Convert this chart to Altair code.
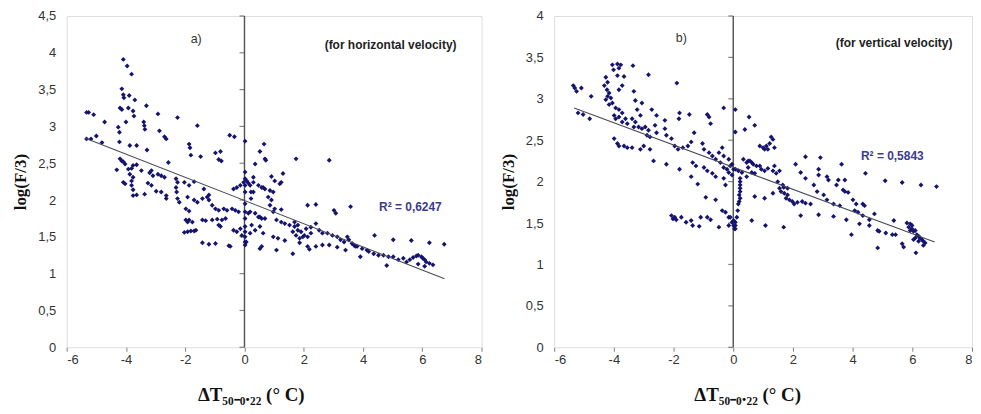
import altair as alt
import pandas as pd

# ---------------- data ----------------
a_pts = [(-4.09,3.91),(-3.96,3.82),(-3.81,3.71),(-4.14,3.51),(-4.09,3.43),(-4.07,3.39),(-3.89,3.42),(-3.70,3.36),
(-4.2,3.25),(-4.14,3.23),(-3.92,3.25),(-3.76,3.21),(-3.73,3.14),(-3.31,3.28),(-2.92,3.17),(-2.26,3.12),(-1.59,3.01),
(-5.33,3.19),(-5.26,3.19),(-5.09,3.16),(-4.72,3.06),(-4.26,2.99),(-4.22,2.92),(-4.0,3.06),(-3.4,3.06),(-3.38,3.01),
(-3.36,2.96),(-2.87,2.94),(-2.7,2.86),(-2.64,2.83),(-5.33,2.83),(-5.18,2.83),(-5.0,2.87),(-4.81,2.78),(-4.22,2.79),
(-3.87,2.74),(-3.64,2.74),(-3.29,2.68),(-1.87,2.76),(-1.84,2.71),(-1.81,2.61),(-1.48,2.59),(-0.98,2.64),(-0.81,2.66),
(-0.87,2.55),(-0.78,2.53),(-0.5,2.88),(-0.34,2.86),(0.02,2.8),(-4.2,2.56),(-4.14,2.53),(-4.09,2.52),(-4.03,2.49),
(-4.31,2.41),(-3.92,2.42),(-3.81,2.43),(-3.76,2.47),(-3.64,2.48),(-3.87,2.35),(-3.76,2.31),(-3.81,2.26),(-3.48,2.4),
(-3.2,2.37),(-3.14,2.4),(-3.09,2.33),(-4.09,2.24),(-4.03,2.22),(-3.81,2.2),(-3.76,2.14),(-3.76,2.06),(-3.64,2.07),
(-3.37,2.08),(-3.26,2.23),(-3.14,2.2),(-2.98,2.12),(-2.81,2.11),(-2.64,2.06),(-2.64,2.02),(-2.92,2.35),(-2.81,2.33),
(-2.7,2.31),(-2.57,2.51),(-2.31,2.29),(-2.26,2.24),(-2.31,2.17),(-2.29,2.11),(-2.26,2.02),(-2.2,1.97),(-2.03,2.24),
(-1.87,2.2),(-1.7,2.25),(-1.92,2.04),(-1.7,2.0),(-1.59,1.97),(-1.42,2.02),(-1.26,2.04),(-1.2,2.0),(-1.98,1.88),
(-1.87,1.85),(-1.09,1.93),(-0.98,1.88),(-0.87,1.86),(-0.7,1.88),(-0.59,1.86),(-0.42,1.88),(-0.31,1.86),(-0.2,1.84),
(-1.37,2.15),(-1.2,2.07),(-1.98,1.73),(-1.92,1.7),(-1.87,1.73),(-1.76,1.7),(-1.42,1.73),(-1.31,1.72),(-1.09,1.73),
(-0.92,1.74),(-0.76,1.73),(-0.64,1.75),(-0.87,1.66),(-0.81,1.64),(-2.03,1.56),(-1.92,1.57),(-1.81,1.58),(-1.7,1.58),
(-1.64,1.59),(-1.42,1.42),(-1.2,1.4),(-0.98,1.41),(-0.53,1.38),(-0.37,1.59),(-0.26,1.57),(-0.14,1.61),(-0.37,2.15),
(-0.26,2.17),(-0.14,2.2),(-0.03,2.24),(0.08,2.26),(0.13,2.23),(0.19,2.2),(0.22,2.11),(0.22,2.02),(0.02,2.38),
(0.02,2.29),(0.02,2.2),(0.02,2.11),(0.02,1.95),(0.02,1.84),(0.02,1.75),(0.02,1.64),(0.02,1.57),(0.02,1.5),(0.02,1.43),
(0.02,1.39),(0.19,1.84),(0.36,1.82),(0.52,1.77),(0.69,1.75),(0.24,1.66),(0.36,1.59),(0.52,1.64),(0.58,1.37),
(0.36,2.49),(0.52,2.66),(0.69,2.56),(0.3,2.24),(0.47,2.2),(0.63,2.17),(0.66,2.76),(0.72,2.54),(1.74,2.56),(2.86,2.54),
(0.3,2.31),(0.91,2.32),(1.02,2.26),(1.3,2.36),(1.24,2.24),(1.19,2.22),(0.3,2.11),(0.58,2.17),(0.69,2.15),(0.86,2.13),
(0.97,2.11),(0.8,2.04),(0.91,2.0),(0.86,1.93),(1.02,1.88),(1.24,1.87),(2.13,1.93),(2.41,1.94),(3.02,1.86),(3.08,1.82),
(3.58,1.91),(0.13,1.82),(0.47,1.77),(0.58,1.75),(0.97,1.84),(1.08,1.73),(1.24,1.7),(1.36,1.68),(1.52,1.66),(1.69,1.64),
(1.8,1.59),(1.91,1.57),(2.02,1.52),(2.13,1.5),(2.24,1.55),(1.69,1.7),(1.8,1.66),(1.63,1.57),(1.74,1.52),(1.86,1.48),
(1.97,1.5),(2.08,1.61),(2.24,1.63),(2.41,1.68),(2.52,1.59),(2.63,1.55),(2.8,1.55),(2.97,1.52),(3.13,1.5),(3.24,1.46),
(3.36,1.43),(3.47,1.5),(3.52,1.46),(3.63,1.41),(3.69,1.39),(3.8,1.37),(3.97,1.34),(4.13,1.32),(2.41,1.37),(2.63,1.39),
(2.86,1.39),(3.13,1.36),(3.41,1.32),(3.74,1.37),(2.19,1.33),(3.91,1.23),(4.19,1.3),(4.36,1.27),(4.52,1.25),(4.69,1.25),
(4.86,1.23),(5.02,1.23),(4.39,1.52),(5.02,1.46),(5.63,1.45),(6.24,1.42),(6.74,1.4),(4.8,1.11),(5.19,1.19),(5.36,1.21),
(5.47,1.16),(5.58,1.19),(5.69,1.22),(5.8,1.24),(5.86,1.25),(5.97,1.23),(6.02,1.21),(6.08,1.19),(6.13,1.16),(6.24,1.14),
(6.36,1.12),(6.08,1.1),(5.86,1.13),(-0.48,1.37),(0.06,1.43),(0.52,1.34),(1.08,1.32),(1.63,1.27),(-0.09,1.52),
(0.19,1.55),(0.63,1.55),(0.97,1.5),(1.13,1.48),(1.36,1.45),(1.86,1.42),(2.13,1.37)]

b_pts = [(-4.05,3.41),(-3.88,3.42),(-3.77,3.41),(-3.83,3.37),(-4.01,3.35),(-3.36,3.4),(-2.84,3.29),(-1.89,3.19),
(-5.36,3.16),(-5.31,3.13),(-5.09,3.13),(-5.25,3.09),(-4.76,3.03),(-4.27,3.26),(-4.21,3.2),(-4.32,3.16),(-3.88,3.28),
(-3.66,3.27),(-3.72,3.16),(-3.83,3.11),(-4.23,3.11),(-4.16,3.07),(-4.21,3.03),(-4.1,3.01),(-4.27,2.99),(-4.05,2.95),
(-4.16,2.93),(-3.33,3.09),(-3.28,2.98),(-3.06,2.95),(-3.22,2.87),(-3.94,2.89),(-3.83,2.87),(-3.72,2.83),(-2.73,2.87),
(-2.57,2.8),(-2.29,2.74),(-1.8,2.83),(-1.82,2.76),(-1.47,2.81),(-0.87,2.81),(-0.81,2.78),(-0.76,2.7),(-0.32,2.89),
(0.07,2.87),(-5.2,2.83),(-5.03,2.81),(-4.81,2.76),(-3.99,2.8),(-3.94,2.76),(-3.83,2.78),(-3.72,2.72),(-3.61,2.76),
(-3.55,2.7),(-3.39,2.76),(-3.28,2.72),(-3.11,2.8),(-3.33,2.66),(-3.17,2.66),(-3.06,2.64),(-2.95,2.66),(-2.84,2.62),
(-2.62,2.68),(-2.57,2.59),(-2.29,2.64),(-2.24,2.56),(-2.07,2.52),(-2.89,2.56),(-2.79,2.54),(-1.96,2.43),(-1.85,2.39),
(-1.69,2.41),(-1.52,2.43),(-1.31,2.59),(-1.41,2.48),(-1.03,2.46),(-0.98,2.39),(-0.81,2.35),(-0.7,2.31),(-0.59,2.27),
(-0.37,2.41),(-0.32,2.31),(-0.48,2.35),(-3.99,2.52),(-3.88,2.46),(-3.83,2.43),(-3.66,2.43),(-3.55,2.41),(-3.39,2.41),
(-3.11,2.39),(-3.0,2.43),(-2.79,2.39),(-2.67,2.25),(-2.24,2.21),(-1.8,2.15),(-1.41,2.06),(-1.19,1.97),(-1.36,2.23),
(-1.25,2.19),(-0.98,2.17),(-0.87,2.13),(-0.7,2.1),(-0.59,2.06),(-0.43,2.23),(-0.32,2.17),(-0.21,2.15),(-0.15,2.11),
(-0.32,2.04),(-0.26,1.96),(-0.04,2.08),(0.07,2.15),(0.17,2.13),(0.29,2.11),(0.23,2.04),(0.23,2.0),(0.23,1.96),
(0.23,1.92),(0.23,1.88),(0.2,1.84),(0.23,1.8),(0.2,1.76),(0.17,1.73),(0.15,1.65),(0.12,1.57),(0.07,1.51),(0.07,1.47),
(0.07,1.43),(0.5,2.25),(0.62,2.23),(0.45,2.06),(-0.92,1.81),(-0.59,1.78),(-0.37,1.65),(-0.26,1.63),(-2.07,1.59),
(-2.02,1.55),(-1.96,1.57),(-1.91,1.54),(-1.74,1.57),(-1.58,1.51),(-1.41,1.53),(-1.36,1.47),(-1.14,1.46),(-1.09,1.57),
(-0.87,1.57),(-0.76,1.54),(-0.48,1.45),(-0.15,1.57),(-0.15,1.47),(0.01,1.47),(0.07,2.6),(0.53,2.78),(0.72,2.68),
(0.39,2.63),(0.89,2.43),(1.0,2.41),(1.11,2.43),(1.05,2.39),(1.16,2.39),(1.27,2.54),(1.33,2.51),(1.38,2.41),(1.22,2.46),
(0.34,2.27),(0.45,2.23),(0.56,2.25),(0.67,2.21),(0.78,2.19),(0.89,2.19),(0.94,2.15),(1.05,2.13),(0.62,2.11),(0.72,2.1),
(0.5,2.17),(1.16,2.16),(1.33,2.13),(1.44,2.1),(1.55,2.13),(1.38,2.19),(2.42,2.3),(2.92,2.29),(3.63,2.21),(4.43,2.1),
(5.09,2.01),(5.66,1.99),(6.29,1.96),(6.81,1.94),(2.09,2.21),(2.26,2.11),(2.42,2.04),(2.86,2.15),(2.86,2.08),(3.14,2.06),
(3.19,2.02),(3.52,2.02),(3.74,2.02),(3.46,1.96),(3.68,1.9),(3.74,1.88),(3.85,1.87),(1.66,1.96),(1.49,2.0),(1.55,1.92),
(1.6,1.88),(1.71,1.86),(1.82,1.84),(1.77,1.8),(1.88,1.78),(1.98,1.76),(2.04,1.73),(2.15,1.75),(2.31,1.76),(2.42,1.74),
(2.59,1.73),(1.82,1.92),(1.69,1.93),(0.72,1.82),(1.05,1.8),(1.33,1.86),(2.7,1.96),(2.81,1.88),(3.03,1.84),(3.14,1.78),
(3.36,1.73),(3.57,1.71),(2.26,1.59),(2.86,1.6),(3.36,1.58),(3.79,1.54),(4.01,1.78),(4.12,1.73),(4.07,1.65),(4.18,1.63),
(4.34,1.73),(4.4,1.71),(4.34,1.59),(4.56,1.54),(4.73,1.61),(0.62,1.53),(1.08,1.47),(1.69,1.45),(3.96,1.36),(4.23,1.49),
(4.56,1.47),(4.84,1.41),(4.89,1.4),(5.11,1.38),(5.33,1.36),(5.44,1.36),(5.38,1.53),(4.84,1.2),(5.66,1.25),(5.71,1.21),
(6.12,1.14),(6.37,1.23),(5.82,1.5),(5.93,1.49),(5.88,1.45),(5.99,1.43),(6.04,1.4),(6.1,1.41),(6.15,1.36),(6.21,1.34),
(6.26,1.32),(6.32,1.3),(6.1,1.32),(6.04,1.3),(6.21,1.28),(6.37,1.28),(6.43,1.26),(5.99,1.47),(5.93,1.41),(-0.15,2.27),
(-0.1,2.19),(-0.04,2.21),(0.01,2.15),(-0.1,1.57),(0.01,1.53),(0.04,1.43),(-0.04,1.51)]

# trend lines (end points)
a_fit_x = [-5.37, 6.75]
a_fit_y = [2.84, 0.93]
b_fit_x = [-5.33, 6.75]
b_fit_y = [2.89, 1.27]

x_ticks = [-6, -4, -2, 0, 2, 4, 6, 8]
a_y_ticks = [0, 0.5, 1, 1.5, 2, 2.5, 3, 3.5, 4, 4.5]
b_y_ticks = [0, 0.5, 1, 1.5, 2, 2.5, 3, 3.5, 4]

a_tag, a_tag_x, a_tag_y = "a)", -1.63, 4.19
a_note, a_note_x, a_note_y = "(for horizontal velocity)", 4.93, 4.11
a_r2, a_r2_x, a_r2_y = "R\u00b2 = 0,6247", 5.6, 1.91
b_tag, b_tag_x, b_tag_y = "b)", -1.74, 3.73
b_note, b_note_x, b_note_y = "(for vertical velocity)", 5.39, 3.67
b_r2, b_r2_x, b_r2_y = "R\u00b2 = 0,5843", 5.33, 2.31

x_title = "\u0394T\u2085\u2080\u208b\u2080.\u2082\u2082 (\u00b0 C)"
y_title = "log(F/3)"

SANS = "Liberation Sans"
SERIF = "Liberation Serif"


def panel(pts, fit_x, fit_y, y_max, y_ticks, tag, tx, ty, note, nx, ny, r2, rx, ry, w, h, title_x):
    xs = alt.Scale(domain=[-6, 8], nice=False, zero=False)
    ys = alt.Scale(domain=[0, y_max], nice=False, zero=False)
    xaxis = alt.Axis(values=x_ticks, labelExpr="'' + datum.value", grid=False, domain=False,
                     ticks=True, tickSize=4, tickColor="#808080", tickWidth=1,
                     labelFont=SANS, labelFontSize=13, labelColor="#333333", labelPadding=2,
                     title=x_title, titleFont=SERIF, titleFontSize=19, titleFontWeight="bold",
                     titleColor="#111111", titleX=title_x, titleY=54, titleBaseline="alphabetic")
    yaxis = alt.Axis(values=y_ticks, labelExpr="replace('' + datum.value, '.', ',')", grid=False,
                     domain=False, ticks=False, labelFont=SANS, labelFontSize=13,
                     labelColor="#333333", labelPadding=11, title=y_title, titleFont=SERIF,
                     titleFontSize=17, titleFontWeight="bold", titleColor="#111111", titlePadding=8)
    ex = alt.X("x:Q", scale=xs, axis=xaxis)
    ey = alt.Y("y:Q", scale=ys, axis=yaxis)

    df = pd.DataFrame(pts, columns=["x", "y"])
    zero = pd.DataFrame({"x": [0]})
    zticks = pd.DataFrame({"x": [0] * len(y_ticks), "y": y_ticks})
    fit = pd.DataFrame({"x": fit_x, "y": fit_y})

    rule = alt.Chart(zero).mark_rule(color="#505050", strokeWidth=1.4).encode(x=ex)
    zt = alt.Chart(zticks).mark_tick(orient="horizontal", size=5, thickness=1.2, xOffset=-2.5,
                                      color="#505050").encode(x=ex, y=ey)
    points = alt.Chart(df).mark_point(shape="diamond", filled=True, size=24, color="#14146e",
                                      opacity=1).encode(x=ex, y=ey)
    line = alt.Chart(fit).mark_line(color="#4a4a5a", strokeWidth=1.1).encode(x=ex, y=ey)
    t1 = alt.Chart(pd.DataFrame({"x": [tx], "y": [ty], "t": [tag]})).mark_text(
        font=SANS, fontSize=12.5, color="#333333").encode(x=ex, y=ey, text="t:N")
    t2 = alt.Chart(pd.DataFrame({"x": [nx], "y": [ny], "t": [note]})).mark_text(
        font=SANS, fontSize=12, fontWeight="bold", color="#222222").encode(x=ex, y=ey, text="t:N")
    t3 = alt.Chart(pd.DataFrame({"x": [rx], "y": [ry], "t": [r2]})).mark_text(
        font=SANS, fontSize=12, fontWeight="bold", color="#3b3b8f").encode(x=ex, y=ey, text="t:N")
    return alt.layer(rule, zt, points, line, t1, t2, t3).properties(width=w, height=h)


left = panel(a_pts, a_fit_x, a_fit_y, 4.5, a_y_ticks, a_tag, a_tag_x, a_tag_y,
             a_note, a_note_x, a_note_y, a_r2, a_r2_x, a_r2_y, 417, 333, 185)
right = panel(b_pts, b_fit_x, b_fit_y, 4, b_y_ticks, b_tag, b_tag_x, b_tag_y,
              b_note, b_note_x, b_note_y, b_r2, b_r2_x, b_r2_y, 420, 333, 194)

chart = alt.hconcat(left, right, spacing=16).properties(
    padding={"left": 3, "top": 0, "right": 0, "bottom": 0}
).configure_view(stroke="#808080", strokeWidth=1.5).configure(background="white")

chart.save("out.html", embed_options={"renderer": "svg", "actions": False})
